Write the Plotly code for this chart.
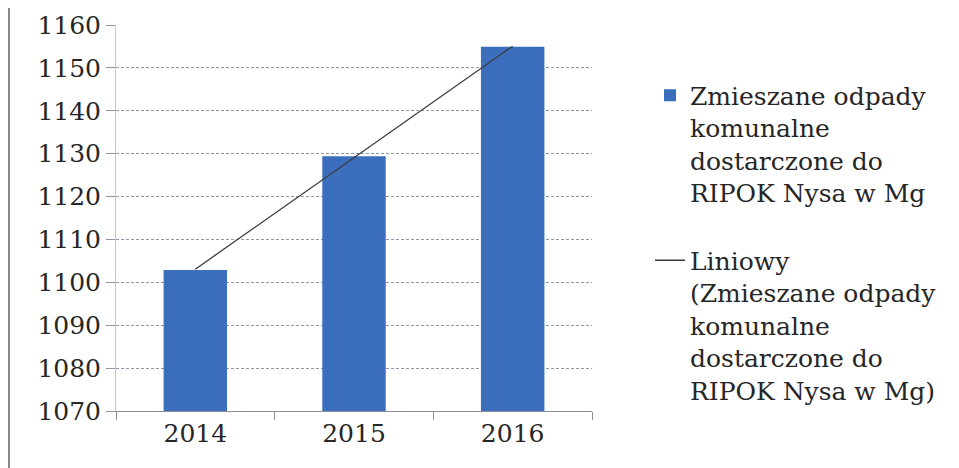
import numpy as np
import plotly.graph_objects as go

years = ["2014", "2015", "2016"]
values = [1102.9, 1129.4, 1154.9]
y_ticks = [1070, 1080, 1090, 1100, 1110, 1120, 1130, 1140, 1150, 1160]
bar_name = "Zmieszane odpady<br>komunalne<br>dostarczone do<br>RIPOK Nysa w Mg"
trend_name = "Liniowy<br>(Zmieszane odpady<br>komunalne<br>dostarczone do<br>RIPOK Nysa w Mg)"

# linear trend (as in the spreadsheet's trendline)
idx = np.arange(len(values))
slope, intercept = np.polyfit(idx, values, 1)
trend = list(slope * idx + intercept)

FONT = "DejaVu Serif"
FS = 25
TXT = "#262626"

fig = go.Figure()
fig.add_trace(go.Bar(
    x=years, y=values, name=bar_name, legendgroup="a",
    marker=dict(color="#3b6fbe", line=dict(width=0)),
    width=0.4,
))
fig.add_trace(go.Scatter(
    x=years, y=trend, name=trend_name, legendgroup="b", mode="lines",
    line=dict(color="#3c3c3c", width=1.3),
))

PW = 476  # plot width in px
PH = 386  # plot height in px

fig.update_layout(
    width=951, height=460,
    margin=dict(l=108, r=367, t=17, b=57, autoexpand=False),
    paper_bgcolor="white", plot_bgcolor="white",
    font=dict(family=FONT, size=FS, color=TXT),
    showlegend=True,
    legend=dict(
        x=(650 - 116) / PW, y=0.877, xanchor="left", yanchor="top",
        font=dict(family=FONT, size=FS, color=TXT),
        valign="top", tracegroupgap=32, bgcolor="rgba(0,0,0,0)",
    ),
    xaxis=dict(
        type="category", tickson="boundaries", ticks="outside", ticklen=8,
        tickcolor="#8a8f99", showline=True, linecolor="#8a8f99", linewidth=1,
        showgrid=False, tickfont=dict(family=FONT, size=FS, color=TXT),
        range=[-0.5, 2.5], automargin=False,
    ),
    yaxis=dict(
        range=[1070, 1160], tickvals=y_ticks, showgrid=True,
        gridcolor="#8e97aa", gridwidth=1, griddash="3px,2px",
        showline=True, linecolor="#b8c8e0", linewidth=1,
        ticks="outside", ticklen=9, tickcolor="#8e97aa",
        tickfont=dict(family=FONT, size=FS, color=TXT),
        zeroline=False, automargin=False,
    ),
)

# left page border line seen in the scan
fig.add_shape(type="line", xref="paper", yref="paper",
              x0=-107 / PW, x1=-107 / PW, y0=-57 / PH, y1=1 + 17 / PH,
              line=dict(color="#8a8a8a", width=2))

fig.write_html("out.html")
